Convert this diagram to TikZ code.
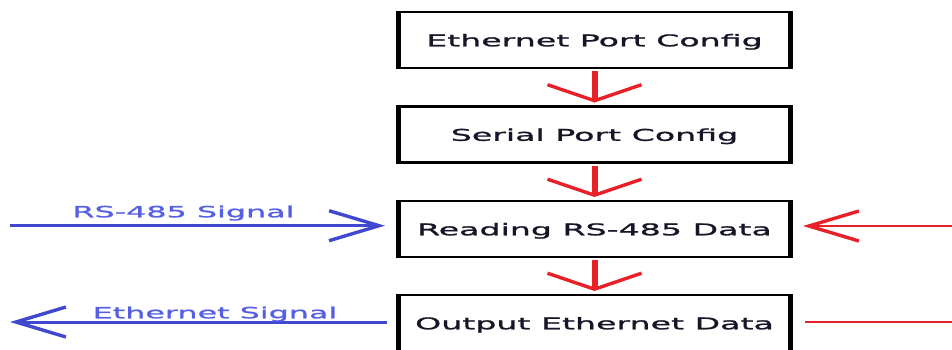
\documentclass[tikz,border=0pt]{standalone}
\usepackage{fontspec}
\setmainfont{DejaVu Sans}
\newfontfamily\widefont[FakeStretch=2.05,FakeBold=1.3]{DejaVu Sans}
\usetikzlibrary{arrows.meta}
\definecolor{flowred}{RGB}{232,32,40}
\definecolor{sigblue}{RGB}{64,72,208}
\definecolor{sigtext}{RGB}{85,95,228}
\definecolor{boxtext}{RGB}{22,22,40}
\begin{document}
\begin{tikzpicture}[x=1pt,y=-1pt,
  stepbox/.style={draw=black, line width=2.5pt, minimum width=392pt,
    minimum height=56pt, inner sep=0pt, outer sep=0pt,
    text height=12.6pt, text depth=0pt, text=boxtext,
    font=\widefont\fontsize{16.2}{19}\selectfont},
  boxside/.style={line width=5.5pt, shorten <=-1.25pt, shorten >=-1.25pt},
  flow/.style={draw=flowred, line width=6pt,
    -{Straight Barb[length=16pt,width=94pt,line width=3.4pt]}},
  sig/.style={draw=sigblue, line width=3pt,
    -{Straight Barb[length=50pt,width=30pt,line width=3.4pt]}},
  feed/.style={draw=flowred, line width=2.2pt,
    -{Straight Barb[length=50pt,width=30pt,line width=3.4pt]}},
  feedline/.style={draw=flowred, line width=2.2pt},
  siglabel/.style={text=sigtext, inner sep=0pt, anchor=base,
    font=\widefont\fontsize{15.5}{18}\selectfont}]
\useasboundingbox (0,0) rectangle (952,349);
\clip (0,0) rectangle (952,349);

% process steps
\node[stepbox] (b1) at (594.5,40)  {Ethernet Port Config};
\node[stepbox] (b2) at (594.5,134.5) {Serial Port Config};
\node[stepbox] (b3) at (594.5,229) {Reading RS-485 Data};
\node[stepbox] (b4) at (594.5,323) {Output Ethernet Data};

% heavier left and right sides of each box
\foreach \b in {b1,b2,b3,b4}{
  \draw[boxside] (\b.north west) -- (\b.south west);
  \draw[boxside] (\b.north east) -- (\b.south east);
}

% flow between steps
\draw[flow, shorten <=3pt, shorten >=4pt] (b1.south) -- (b2.north);
\draw[flow, shorten <=3pt, shorten >=4pt] (b2.south) -- (b3.north);
\draw[flow, shorten <=3pt, shorten >=4pt] (b3.south) -- (b4.north);

% signal endpoints
\coordinate (rsin)    at (10,225.7);
\coordinate (ethout)  at (10,322);
\coordinate (rsfeed)  at (952,226);
\coordinate (ethfeed) at (952,322.3);

% signals on the left
\draw[sig, shorten >=13.5pt] (rsin) -- (rsin -| b3.west);
\draw[sig, shorten <=11.5pt] (ethout -| b4.west) -- (ethout);
\node[siglabel] (lrs)  at (183.5,217.3) {RS-485 Signal};
\node[siglabel] (leth) at (215,318.3) {Ethernet Signal};

% lines on the right
\draw[feed, shorten >=12.5pt] (rsfeed) -- (rsfeed -| b3.east);
\draw[feedline, shorten <=14.5pt] (ethfeed -| b4.east) -- (ethfeed);
\end{tikzpicture}
\end{document}
